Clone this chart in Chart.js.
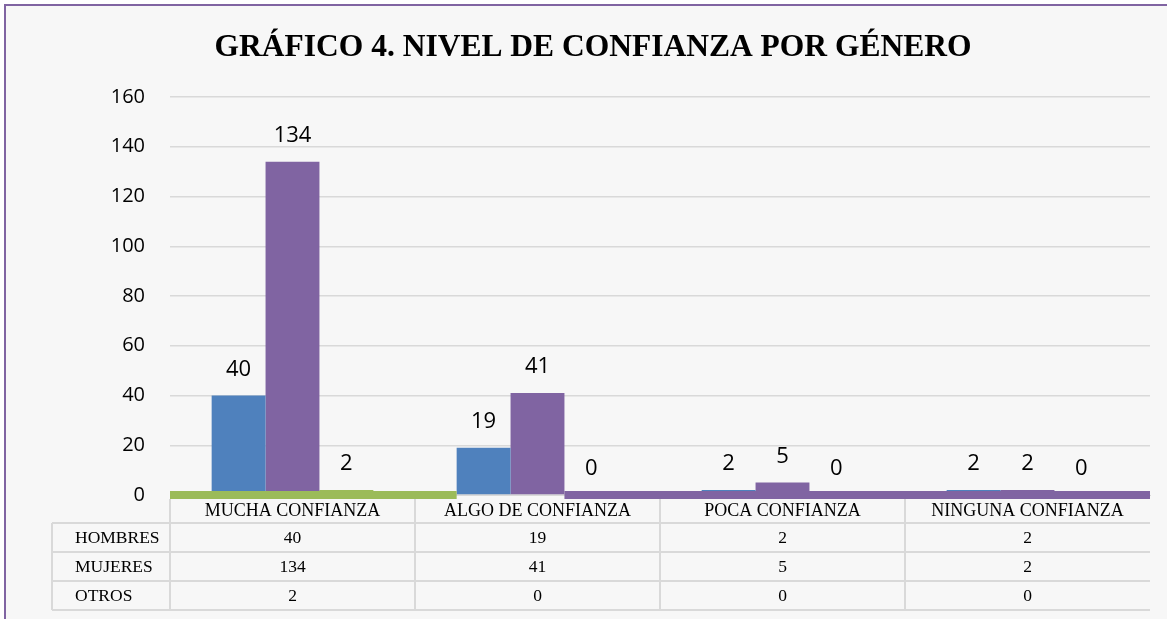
<!DOCTYPE html>
<html>
<head>
<meta charset="utf-8">
<script src="https://cdn.jsdelivr.net/npm/chart.js@4.4.1/dist/chart.umd.min.js"></script>
<style>
  html, body { margin: 0; padding: 0; background: #fff; overflow: hidden; }
  #frame {
    position: absolute; left: 4px; top: 4px; width: 1200px; height: 700px;
    background: #f7f7f7; border-left: 2px solid #8064a2; border-top: 2px solid #8064a2;
  }
  #chart { position: absolute; left: 0; top: 0; }
</style>
</head>
<body>
<div id="frame"></div>
<canvas id="chart" width="1167" height="619"></canvas>
<script>
const titleText = 'GRÁFICO 4. NIVEL DE CONFIANZA POR GÉNERO';
const categories = ['MUCHA CONFIANZA', 'ALGO DE CONFIANZA', 'POCA CONFIANZA', 'NINGUNA CONFIANZA'];
const seriesNames = ['HOMBRES', 'MUJERES', 'OTROS'];
const hombres = [40, 19, 2, 2];
const mujeres = [134, 41, 5, 2];
const otros = [2, 0, 0, 0];
const yMax = 160;
const yStep = 20;

const colors = ['#4f81bd', '#8064a2', '#9bbb59'];
const serifFont = "'Liberation Serif', 'Times New Roman', serif";
const sansFont = "'Open Sans', 'Noto Sans', sans-serif";

// title centred on the whole frame
const chartTitle = {
    id: 'chartTitle',
    afterDraw(chart) {
        const ctx = chart.ctx;
        ctx.save();
        ctx.font = 'bold 31.5px ' + serifFont;
        ctx.fillStyle = '#000';
        ctx.textAlign = 'center';
        ctx.textBaseline = 'middle';
        ctx.fillText(titleText, 593, 48);
        ctx.restore();
    }
};

// value labels above every bar
const barLabels = {
    id: 'barLabels',
    afterDatasetsDraw(chart) {
        const ctx = chart.ctx;
        ctx.save();
        ctx.font = '22px ' + sansFont;
        ctx.fillStyle = '#000';
        ctx.textAlign = 'center';
        ctx.textBaseline = 'middle';
        chart.data.datasets.forEach((ds, i) => {
            chart.getDatasetMeta(i).data.forEach((bar, j) => {
                ctx.fillText(String(ds.data[j]), bar.x, bar.y - 26);
            });
        });
        ctx.restore();
    }
};

// coloured strip on the axis and data table underneath
const dataTable = {
    id: 'dataTable',
    afterDraw(chart) {
        const ctx = chart.ctx;
        const area = chart.chartArea;
        const y0 = chart.scales.y.getPixelForValue(0);
        const blue1 = chart.getDatasetMeta(0).data[1];
        const purple1 = chart.getDatasetMeta(1).data[1];
        ctx.save();
        ctx.fillStyle = colors[2];
        ctx.fillRect(area.left, y0 - 4, (blue1.x - blue1.width / 2) - area.left, 8);
        ctx.fillStyle = colors[1];
        const px = purple1.x + purple1.width / 2;
        ctx.fillRect(px, y0 - 4, area.right - px, 8);

        const colW = (area.right - area.left) / categories.length;
        const tableLeft = 52;
        const rowH = 29;
        const top = y0 + 28;
        const bottom = top + rowH * seriesNames.length;
        ctx.strokeStyle = '#d9d9d9';
        ctx.lineWidth = 2;
        ctx.beginPath();
        for (let c = 0; c < categories.length; c++) {
            const x = area.left + c * colW;
            ctx.moveTo(x, y0 + 4);
            ctx.lineTo(x, bottom);
        }
        ctx.moveTo(tableLeft, top);
        ctx.lineTo(tableLeft, bottom);
        for (let r = 0; r <= seriesNames.length; r++) {
            ctx.moveTo(tableLeft, top + r * rowH);
            ctx.lineTo(area.right, top + r * rowH);
        }
        ctx.stroke();

        ctx.fillStyle = '#000';
        ctx.font = '17.5px ' + serifFont;
        ctx.textBaseline = 'middle';
        chart.data.datasets.forEach((ds, r) => {
            const cy = top + r * rowH + rowH / 2 + 1;
            ctx.textAlign = 'left';
            ctx.fillText(seriesNames[r], 75, cy);
            ctx.textAlign = 'center';
            ds.data.forEach((v, c) => {
                ctx.fillText(String(v), area.left + c * colW + colW / 2, cy);
            });
        });
        ctx.restore();
    }
};

new Chart(document.getElementById('chart'), {
    type: 'bar',
    data: {
        labels: categories,
        datasets: [
            { label: seriesNames[0], data: hombres, backgroundColor: colors[0] },
            { label: seriesNames[1], data: mujeres, backgroundColor: colors[1] },
            { label: seriesNames[2], data: otros, backgroundColor: colors[2] }
        ]
    },
    options: {
        responsive: false,
        animation: false,
        layout: { padding: { left: 0, right: 17, top: 97, bottom: 97 } },
        datasets: { bar: { categoryPercentage: 0.66, barPercentage: 1 } },
        plugins: {
            legend: { display: false },
            tooltip: { enabled: false },
            title: { display: false }
        },
        scales: {
            x: {
                grid: { display: false, drawTicks: false },
                border: { display: true, color: '#d9d9d9' },
                ticks: { color: '#000', padding: 5, font: { family: serifFont, size: 18 } },
                afterFit(scale) { scale.height = 27; }
            },
            y: {
                min: 0,
                max: yMax,
                ticks: { stepSize: yStep, color: '#000', padding: 25, font: { family: sansFont, size: 20 } },
                grid: { color: '#d9d9d9', lineWidth: 1.5, drawTicks: false },
                border: { display: false },
                afterFit(scale) { scale.width = 170; }
            }
        }
    },
    plugins: [chartTitle, barLabels, dataTable]
});
</script>
</body>
</html>
